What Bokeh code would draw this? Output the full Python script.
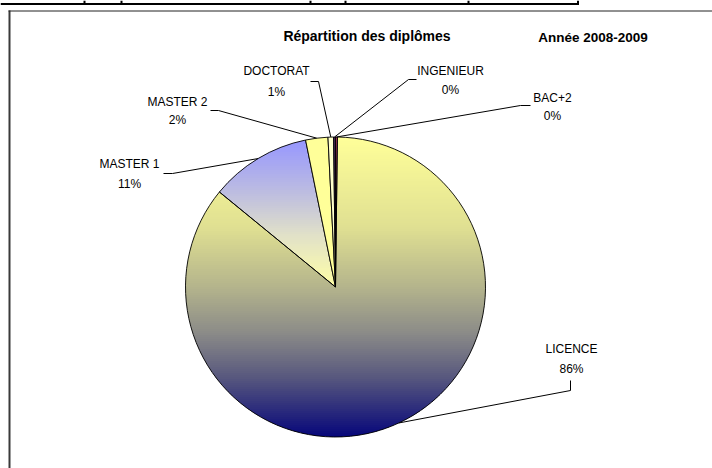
import numpy as np
from bokeh.plotting import figure
from bokeh.models import Range1d
from bokeh.core.properties import value
from bokeh.embed import file_html
from bokeh.resources import INLINE

# ---- data ----
categories = ["BAC+2", "LICENCE", "MASTER 1", "MASTER 2", "DOCTORAT", "INGENIEUR"]
counts = [2, 858, 109, 24, 6, 2]
title_text = "Répartition des diplômes"
year_text = "Année 2008-2009"

# ---- layout / style ----
W, H = 712, 468
CX, CY, R = 335.0, 286.5, 150.0          # page pixel coords
FONT = "Liberation Sans"

# label anchor (page coords): x, name line y, pct line y
label_layout = {
    "DOCTORAT": (276, 70, 91),
    "INGENIEUR": (450, 70, 89),
    "BAC+2": (552, 97, 115),
    "MASTER 2": (177, 101, 119),
    "MASTER 1": (129, 163, 183),
    "LICENCE": (571, 348, 368),
}
leader_layout = {
    "DOCTORAT": [(310, 81), (318, 81)],
    "INGENIEUR": [(416, 79), (408, 79)],
    "BAC+2": [(530, 105), (520, 105)],
    "MASTER 2": [(210, 110), (218, 110)],
    "MASTER 1": [(163, 173), (172, 173)],
    "LICENCE": [(570, 380), (570, 390)],
}
solid_fill = {
    "BAC+2": "#c0406e",
    "MASTER 2": "#ffff99",
    "DOCTORAT": "#ffffcc",
    "INGENIEUR": "#4a2a5a",
}
gradients = {
    "LICENCE": [(0.0, (255, 255, 153)), (0.3, (224, 224, 146)), (0.5, (180, 180, 140)),
                (0.65, (140, 140, 136)), (0.8, (88, 88, 126)), (1.0, (6, 6, 122))],
    "MASTER 1": [(0.0, (150, 150, 255)), (0.35, (188, 188, 225)), (0.65, (225, 225, 200)),
                 (1.0, (255, 255, 165))],
}
table_cols = [84, 121, 310, 345, 468, 577.5]


def Y(yp):
    return -yp


def grad_color(stops, t):
    t = min(max(t, 0.0), 1.0)
    for (t0, c0), (t1, c1) in zip(stops[:-1], stops[1:]):
        if t <= t1:
            f = (t - t0) / (t1 - t0) if t1 > t0 else 0
            c = [int(round(a + (b - a) * f)) for a, b in zip(c0, c1)]
            return "#%02x%02x%02x" % tuple(c)
    c = stops[-1][1]
    return "#%02x%02x%02x" % c


def clip(poly, y0, y1):
    def clip_half(pts, keep, inter):
        out = []
        n = len(pts)
        for i in range(n):
            a, b = pts[i], pts[(i + 1) % n]
            ka, kb = keep(a), keep(b)
            if ka:
                out.append(a)
                if not kb:
                    out.append(inter(a, b))
            elif kb:
                out.append(inter(a, b))
        return out

    def ix(yc):
        def f(a, b):
            t = (yc - a[1]) / (b[1] - a[1])
            return (a[0] + t * (b[0] - a[0]), yc)
        return f

    pts = clip_half(poly, lambda p: p[1] >= y0, ix(y0))
    if not pts:
        return []
    pts = clip_half(pts, lambda p: p[1] <= y1, ix(y1))
    return pts


total = float(sum(counts))
fracs = [c / total for c in counts]
cum = np.concatenate([[0.0], np.cumsum(fracs)])
T0 = cum[:-1] * 2 * np.pi   # clockwise from 12 o'clock
T1 = cum[1:] * 2 * np.pi
mids = (T0 + T1) / 2
pcts = ["%d%%" % int(round(f * 100)) for f in fracs]

p = figure(width=W, height=H, x_range=Range1d(0, W), y_range=Range1d(-H, 0),
           output_backend="svg", toolbar_location=None, min_border=0)
p.axis.visible = False
p.grid.visible = False
p.outline_line_color = None
p.background_fill_color = "white"
p.border_fill_color = "white"

# spreadsheet table lines above the chart
p.line([0, 578.5], [Y(3.5), Y(3.5)], line_color="black", line_width=2)
p.multi_line([[c, c] for c in table_cols], [[Y(0), Y(4)] for c in table_cols],
             line_color="black", line_width=2)

# chart frame (Excel chart area border)
p.line([9, 9], [Y(10), Y(H)], line_color="#3a3a3a", line_width=2)
p.line([8, W], [Y(10.5), Y(10.5)], line_color="#222222", line_width=1)

# gradient fills
gx, gy, gc = [], [], []
step = 2.0
for i, cat in enumerate(categories):
    if cat not in gradients:
        continue
    ts = np.linspace(T0[i], T1[i], max(8, int((T1[i] - T0[i]) * 80)))
    poly = [(CX, CY)] + [(CX + R * np.sin(t), CY - R * np.cos(t)) for t in ts]
    ys_ = [q[1] for q in poly]
    ymin, ymax = min(ys_), max(ys_)
    yb = ymin
    while yb < ymax:
        part = clip(poly, yb, min(yb + step + 0.8, ymax))
        if len(part) >= 3:
            gx.append([q[0] for q in part])
            gy.append([Y(q[1]) for q in part])
            gc.append(grad_color(gradients[cat], (yb + step / 2 - ymin) / (ymax - ymin)))
        yb += step
p.patches(gx, gy, fill_color=gc, line_color=None)

# wedges (solid fills + outlines)
fills = [solid_fill.get(c, "#ffffff") for c in categories]
alphas = [0.0 if c in gradients else 1.0 for c in categories]
p.wedge(x=[CX] * len(categories), y=[Y(CY)] * len(categories), radius=R,
        start_angle=list(np.pi / 2 - T1), end_angle=list(np.pi / 2 - T0), direction="anticlock",
        fill_color=fills, fill_alpha=alphas, line_color="black", line_width=0.9)

# leader lines
lx, ly = [], []
for i, cat in enumerate(categories):
    pts = leader_layout[cat] + [(CX + R * np.sin(mids[i]), CY - R * np.cos(mids[i]))]
    lx.append([q[0] for q in pts])
    ly.append([Y(q[1]) for q in pts])
p.multi_line(lx, ly, line_color="black", line_width=1)

# labels
tx, ty, tt = [], [], []
for i, cat in enumerate(categories):
    x, y1, y2 = label_layout[cat]
    tx += [x, x]
    ty += [Y(y1), Y(y2)]
    tt += [cat, pcts[i]]
p.text(tx, ty, text=tt, text_align="center", text_baseline="middle",
       text_font=value(FONT), text_font_size=value("12px"), text_color="black")

# titles
p.text([366.5], [Y(35)], text=[title_text], text_align="center",
       text_baseline="middle", text_font=value(FONT), text_font_size=value("14px"),
       text_font_style="bold", text_color="black")
p.text([592.5], [Y(37)], text=[year_text], text_align="center",
       text_baseline="middle", text_font=value(FONT), text_font_size=value("13.5px"),
       text_font_style="bold", text_color="black")

open("out.html", "w").write(file_html(p, INLINE))
